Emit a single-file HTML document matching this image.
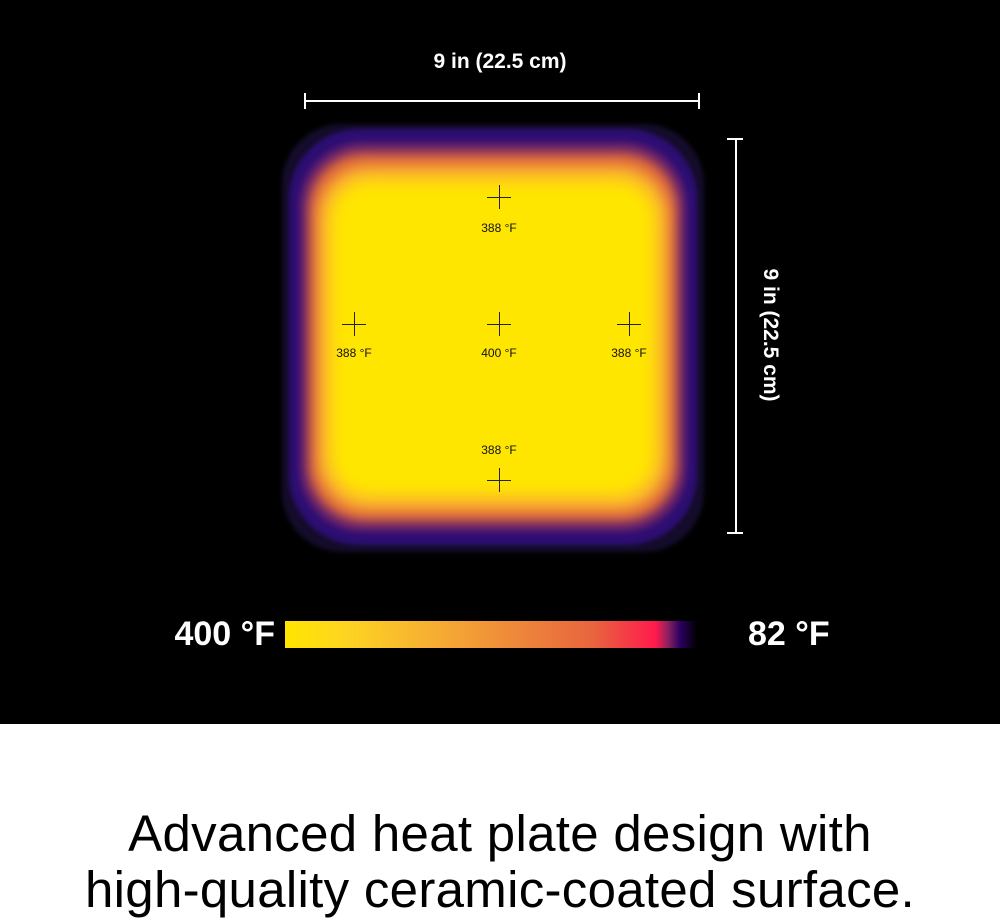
<!DOCTYPE html>
<html><head><style>
body{margin:0;width:1000px;height:923px;background:#fff;font-family:"Liberation Sans",sans-serif;overflow:hidden;position:relative}
.top{position:absolute;left:0;top:0;width:1000px;height:724px;background:#000;overflow:hidden}
.l{position:absolute}
.t{position:absolute;color:#fff;font-weight:bold}
.ch{position:absolute;width:24px;height:24px}
.ch:before{content:"";position:absolute;left:11.5px;top:0;width:1px;height:24px;background:#222}
.ch:after{content:"";position:absolute;top:11.5px;left:0;height:1px;width:24px;background:#222}
.lab{position:absolute;width:80px;text-align:center;font-size:12px;color:#111}
.bt{position:absolute;left:0;width:1000px;text-align:center;font-size:51px;color:#000;letter-spacing:0.3px}
</style></head><body>
<div class="top">
  <div class="t" style="left:400px;top:50px;width:200px;text-align:center;font-size:21px">9 in (22.5 cm)</div>
  <div class="l" style="left:305px;top:100px;width:394px;height:2px;background:#fff"></div>
  <div class="l" style="left:304px;top:93px;width:2px;height:16px;background:#fff"></div>
  <div class="l" style="left:698px;top:93px;width:2px;height:16px;background:#fff"></div>
  <div class="l" style="left:735px;top:139px;width:2px;height:394px;background:#fff"></div>
  <div class="l" style="left:727px;top:138px;width:16px;height:2px;background:#fff"></div>
  <div class="l" style="left:727px;top:532px;width:16px;height:2px;background:#fff"></div>
  <div class="t" style="left:670px;top:323px;width:200px;text-align:center;font-size:21px;transform:rotate(90deg)">9 in (22.5 cm)</div>

  <div class="l" style="left:282px;top:124px;width:422px;height:428px;border-radius:60px;background:#140c2a;filter:blur(2px)"></div>
  <div class="l" style="left:289px;top:129px;width:408px;height:416px;border-radius:70px;background:#2c0e72;filter:blur(2px)"></div>
  <div class="l" style="left:300px;top:142px;width:386px;height:390px;border-radius:62px;background:#5a1a70;filter:blur(4px)"></div>
  <div class="l" style="left:308px;top:152px;width:370px;height:370px;border-radius:56px;background:#e0683c;filter:blur(6px)"></div>
  <div class="l" style="left:318px;top:166px;width:350px;height:344px;border-radius:50px;background:#fbb330;filter:blur(7px)"></div>
  <div class="l" style="left:330px;top:180px;width:326px;height:316px;border-radius:40px;background:#ffe600;filter:blur(8px)"></div>

  <div class="ch" style="left:487px;top:185px"></div><div class="lab" style="left:459px;top:221px">388 °F</div>
  <div class="ch" style="left:342px;top:312px"></div><div class="lab" style="left:314px;top:346px">388 °F</div>
  <div class="ch" style="left:487px;top:312px"></div><div class="lab" style="left:459px;top:346px">400 °F</div>
  <div class="ch" style="left:617px;top:312px"></div><div class="lab" style="left:589px;top:346px">388 °F</div>
  <div class="lab" style="left:459px;top:443px">388 °F</div><div class="ch" style="left:487px;top:468px"></div>

  <div class="t" style="left:160px;top:615px;width:115px;text-align:right;font-size:34px">400 °F</div>
  <div class="l" style="left:285px;top:621px;width:412px;height:27px;background:linear-gradient(to right,#ffe600 0%,#fdd422 15%,#f7b032 35%,#ee8a3a 55%,#e8643e 75%,#ff1a4c 90%,#8a2060 93%,#2a0060 96%,#000 100%)"></div>
  <div class="t" style="left:748px;top:615px;width:120px;font-size:34px">82 °F</div>
</div>
<div class="bt" style="top:804px">Advanced heat plate design with</div>
<div class="bt" style="top:860px">high-quality ceramic-coated surface.</div>
</body></html>
